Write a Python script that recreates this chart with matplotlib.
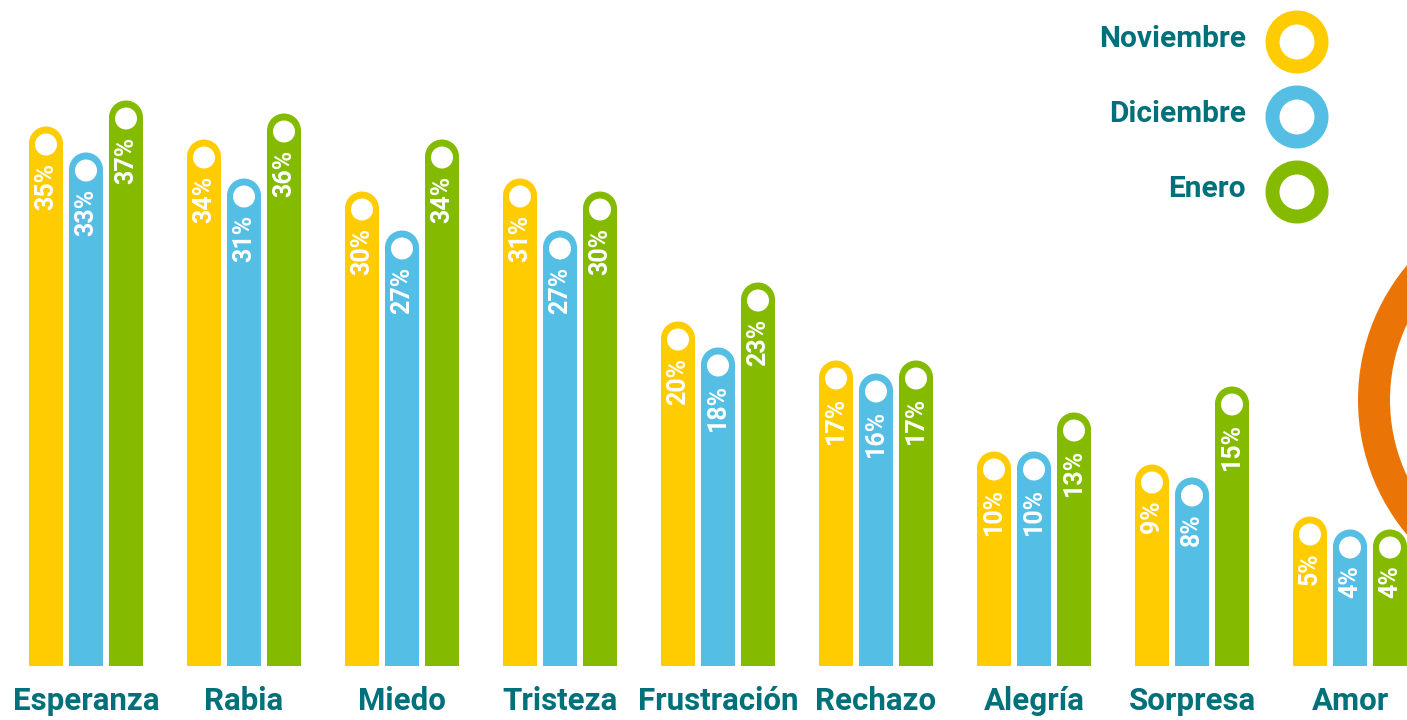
import numpy as np
import matplotlib
matplotlib.use("Agg")
import matplotlib.pyplot as plt
from matplotlib.patches import Rectangle, Ellipse, Circle
from matplotlib.transforms import Affine2D

plt.rcParams['font.family'] = ['Roboto', 'DejaVu Sans']

# data
categories = ['Esperanza', 'Rabia', 'Miedo', 'Tristeza', 'Frustración',
              'Rechazo', 'Alegría', 'Sorpresa', 'Amor']
series = ['Noviembre', 'Diciembre', 'Enero']
noviembre = [35, 34, 30, 31, 20, 17, 10, 9, 5]
diciembre = [33, 31, 27, 27, 18, 16, 10, 8, 4]
enero = [37, 36, 34, 30, 23, 17, 13, 15, 4]
values = [noviembre, diciembre, enero]

colors = ['#FECC00', '#54BEE5', '#84BB00']
teal = '#00717A'
orange = '#EA7405'

W, H = 1407, 720
fig = plt.figure(figsize=(W / 100, H / 100), dpi=100)
ax = fig.add_axes([0, 0, 1, 1])

# scales: 158 px per category, 13 px per percentage point
px_x, px_y = 158.0, 13.0
base = -6.5          # bars start below zero so small values still show
x0 = -86 / px_x
y0 = base - 54 / px_y
ax.set_xlim(x0, x0 + W / px_x)
ax.set_ylim(y0, y0 + H / px_y)
ax.axis('off')

# pixel transform for decoration (origin top-left)
pix = Affine2D().scale(1 / 100, -1 / 100).translate(0, H / 100) + fig.dpi_scale_trans

# orange arc at the right edge
ax.add_patch(Circle((1568, 400), 194, fill=False, lw=32 * 0.72,
                    edgecolor=orange, transform=pix, zorder=0))

bw = 34 / px_x
step = 40 / px_x
r_x, r_y = 17 / px_x, 17 / px_y
x = np.arange(len(categories))

for j, (vals, c) in enumerate(zip(values, colors)):
    for xi, v in zip(x + (j - 1) * step, vals):
        ax.add_patch(Rectangle((xi - bw / 2, base), bw, v - r_y - base,
                               facecolor=c, edgecolor='none', zorder=2))
        ax.add_patch(Ellipse((xi, v - r_y), bw, 2 * r_y,
                             facecolor=c, edgecolor='none', zorder=2))
        ax.add_patch(Ellipse((xi, v - 18 / px_y), 22 / px_x, 22 / px_y,
                             facecolor='white', edgecolor='none', zorder=3))
        ax.text(xi, v - 36 / px_y, f'{v}%', rotation=90, ha='center',
                va='top', color='white', fontsize=18, fontweight='bold',
                zorder=4)

for xi, name in zip(x, categories):
    ax.text(xi, 19 / H, name, transform=ax.get_xaxis_transform(),
            ha='center', va='center', color=teal, fontsize=22.5,
            fontweight='bold')

# legend
for k, (name, c) in enumerate(zip(series, colors)):
    yc = [42, 117, 192][k]
    ax.text(1246, yc - 3, name, transform=pix, ha='right', va='center',
            color=teal, fontsize=21.5, fontweight='bold')
    ax.add_patch(Circle((1297, yc), 24.5, fill=False, lw=14 * 0.72,
                        edgecolor=c, transform=pix))

fig.savefig('out.png', dpi=100)
